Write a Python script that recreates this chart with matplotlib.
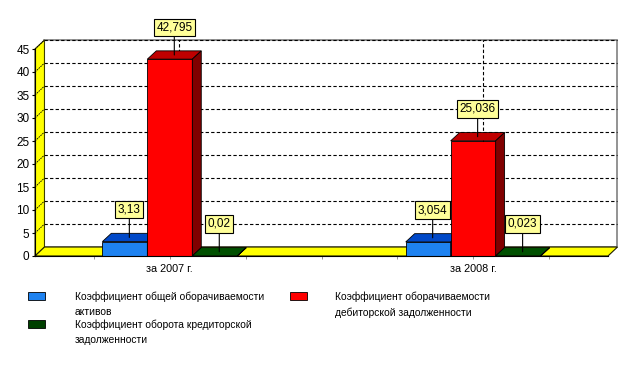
import matplotlib.pyplot as plt
from matplotlib.patches import Polygon, Rectangle

plt.rcParams['font.family'] = ['Liberation Sans', 'DejaVu Sans']

# данные
categories = ['за 2007 г.', 'за 2008 г.']
series_names = ['Коэффициент общей оборачиваемости\nактивов',
                'Коэффициент оборачиваемости\nдебиторской задолженности',
                'Коэффициент оборота кредиторской\nзадолженности']
values_2007 = [3.13, 42.795, 0.02]
values_2008 = [3.054, 25.036, 0.023]
value_labels_2007 = ['3,13', '42,795', '0,02']
value_labels_2008 = ['3,054', '25,036', '0,023']

# цвета: лицевая грань, верх, бок
face_colors = ['#1E82F0', '#FF0000', '#004000']
top_colors = ['#0048C8', '#C00000', '#005000']
side_colors = ['#00308C', '#800000', '#002800']

cat_pos = [1, 5]
bar_w = 0.593
x_min, x_max = -0.778, 6.778
y_max = 45
wall_dx, wall_dy = 0.125, 1.95   # глубина стен
bar_dx, bar_dy = 0.118, 1.8      # глубина столбиков

fig = plt.figure(figsize=(6.42, 3.76), dpi=100)
ax = fig.add_axes([35 / 642, 1 - 256 / 376, 573 / 642, 207 / 376])
ax.set_xlim(x_min, x_max)
ax.set_ylim(0, y_max)
ax.patch.set_visible(False)
for s in ['top', 'right']:
    ax.spines[s].set_visible(False)
ax.spines['left'].set_zorder(6)
ax.spines['bottom'].set_zorder(6)

# задняя стенка
back = Polygon([(x_min + wall_dx, wall_dy), (x_max + wall_dx, wall_dy),
                (x_max + wall_dx, y_max + wall_dy), (x_min + wall_dx, y_max + wall_dy)],
               closed=True, facecolor='white', edgecolor='#808080', lw=1.2,
               clip_on=False, zorder=0.5)
ax.add_patch(back)

# линии сетки на задней стенке и боковой стенке
for v in range(5, y_max + 1, 5):
    ax.plot([x_min + wall_dx, x_max + wall_dx], [v + wall_dy, v + wall_dy],
            color='black', lw=0.8, ls=(0, (3, 2)), clip_on=False, zorder=1)
for c in cat_pos:
    ax.plot([c + wall_dx, c + wall_dx], [wall_dy, y_max + wall_dy],
            color='black', lw=0.8, ls=(0, (3, 2)), clip_on=False, zorder=1)

# боковая стенка
side = Polygon([(x_min, 0), (x_min, y_max), (x_min + wall_dx, y_max + wall_dy),
                (x_min + wall_dx, wall_dy)],
               closed=True, facecolor='#FFFF00', edgecolor='#404000', lw=0.8,
               clip_on=False, zorder=1.5)
ax.add_patch(side)
for v in range(5, y_max + 1, 5):
    ax.plot([x_min, x_min + wall_dx], [v, v + wall_dy], color='black', lw=0.6,
            ls=(0, (2, 1)), clip_on=False, zorder=1.6)

# пол
floor = Polygon([(x_min, 0), (x_max, 0), (x_max + wall_dx, wall_dy),
                 (x_min + wall_dx, wall_dy)],
                closed=True, facecolor='#FFFF00', edgecolor='#202000', lw=0.8,
                clip_on=False, zorder=1.7)
ax.add_patch(floor)


def draw_bar(x0, h, i, z):
    x1 = x0 + bar_w
    ax.add_patch(Rectangle((x0, 0), bar_w, h, facecolor=face_colors[i],
                           edgecolor='black', lw=0.6, clip_on=False, zorder=z))
    ax.add_patch(Polygon([(x0, h), (x1, h), (x1 + bar_dx, h + bar_dy),
                          (x0 + bar_dx, h + bar_dy)], closed=True,
                         facecolor=top_colors[i], edgecolor='black', lw=0.6,
                         clip_on=False, zorder=z))
    ax.add_patch(Polygon([(x1, 0), (x1, h), (x1 + bar_dx, h + bar_dy),
                          (x1 + bar_dx, bar_dy)], closed=True,
                         facecolor=side_colors[i], edgecolor='black', lw=0.6,
                         clip_on=False, zorder=z))


all_values = [values_2007, values_2008]
all_labels = [value_labels_2007, value_labels_2008]
z = 3
for c, vals, labs in zip(cat_pos, all_values, all_labels):
    for i, (v, lab) in enumerate(zip(vals, labs)):
        x0 = c + (i - 1) * bar_w - bar_w / 2
        draw_bar(x0, v, i, z)
        z += 0.1
        ax.annotate(lab, xy=(x0 + bar_w / 2 + bar_dx / 2, v + bar_dy / 2),
                    xytext=(0, 20), textcoords='offset points',
                    ha='center', va='center', fontsize=8.5, zorder=10,
                    bbox=dict(boxstyle='square,pad=0.22', facecolor='#FFFF99',
                              edgecolor='black', lw=0.8),
                    arrowprops=dict(arrowstyle='-', color='black', lw=0.8,
                                    shrinkA=0, shrinkB=0),
                    annotation_clip=False)

# оси
ax.set_yticks(range(0, y_max + 1, 5))
ax.tick_params(axis='y', length=2.5, width=0.8, pad=1.5, labelsize=8.5)
ticks = list(range(0, 7))
ax.set_xticks(ticks)
ax.set_xticklabels([categories[cat_pos.index(t)] if t in cat_pos else '' for t in ticks])
ax.tick_params(axis='x', length=2.5, width=0.6, color='#808080', pad=3, labelsize=7.8)

# легенда
legend_spots = [(28, 75, 292), (290, 335, 292), (28, 75, 320)]
for i, (sx, tx, ty) in enumerate(legend_spots):
    fig.patches.append(Rectangle((sx / 642, 1 - (ty + 8) / 376), 17 / 642, 8 / 376,
                                 transform=fig.transFigure, facecolor=face_colors[i],
                                 edgecolor='black', lw=0.6))
    fig.text(tx / 642, 1 - (ty - 1) / 376, series_names[i], ha='left', va='top',
             fontsize=7.4, linespacing=1.72)

fig.savefig('out.png', dpi=100)
